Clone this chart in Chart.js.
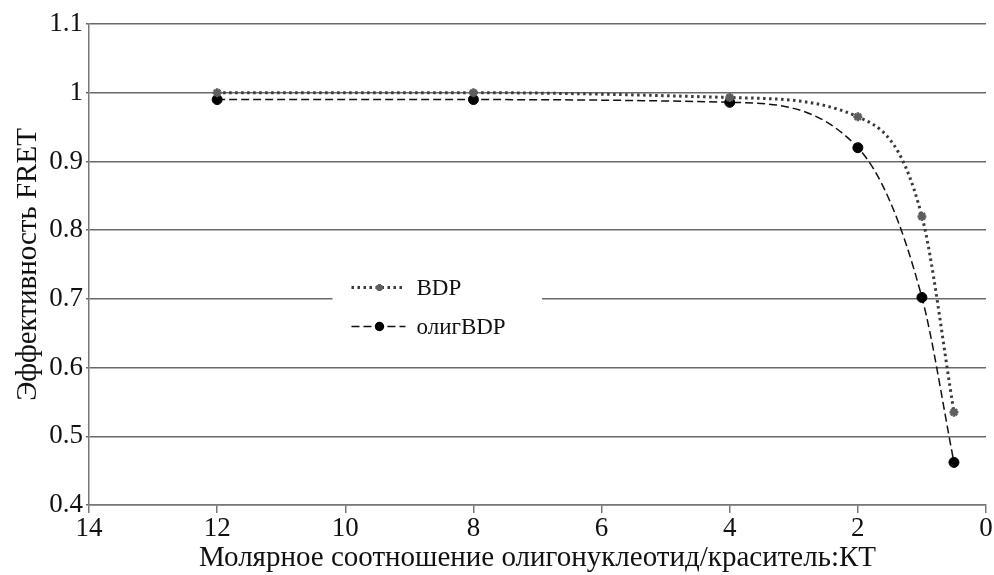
<!DOCTYPE html>
<html>
<head>
<meta charset="utf-8">
<script src="https://cdn.jsdelivr.net/npm/chart.js@4"></script>
<style>
  html, body { margin: 0; padding: 0; background: #fff; }
  #wrap { width: 994px; height: 575px; }
</style>
</head>
<body>
<div id="wrap"><canvas id="line-chart"></canvas></div>
<script>
const ratios = [12, 8, 4, 2, 1, 0.5];
const bdp = [1.0, 1.0, 0.993, 0.965, 0.82, 0.535];
const oligBdp = [0.99, 0.99, 0.986, 0.92, 0.702, 0.462];
const seriesNames = ['BDP', 'олигBDP'];

const serif = '"Liberation Serif", "Times New Roman", serif';

// legend sits inside the plot area, drawn by hand
const innerLegend = {
    id: 'innerLegend',
    afterDraw(chart) {
        const c = chart.ctx;
        const x = chart.scales.x, y = chart.scales.y;
        const left = x.getPixelForValue(10.2), right = x.getPixelForValue(6.93);
        const top = y.getPixelForValue(0.75), bottom = y.getPixelForValue(0.64);
        c.save();
        c.fillStyle = '#fff';
        c.fillRect(left, top, right - left, bottom - top);
        chart.data.datasets.forEach((ds, i) => {
            const yy = top + 23 + i * 39;
            const x0 = left + 19;
            c.strokeStyle = ds.borderColor;
            c.lineWidth = ds.borderWidth;
            c.setLineDash(ds.borderDash);
            c.beginPath();
            c.moveTo(x0, yy);
            c.lineTo(x0 + 54, yy);
            c.stroke();
            c.setLineDash([]);
            c.fillStyle = ds.pointBackgroundColor;
            c.strokeStyle = ds.pointBorderColor;
            Chart.helpers.drawPoint(c, {
                pointStyle: ds.pointStyle,
                radius: ds.pointRadius - 1,
                borderWidth: ds.pointBorderWidth || 1
            }, x0 + 28, yy);
            c.fillStyle = '#111';
            c.font = '23px ' + serif;
            c.textBaseline = 'middle';
            c.fillText(ds.label, x0 + 65, yy + 1);
        });
        c.restore();
    }
};

const ctx = document.getElementById('line-chart').getContext('2d');
const myChart = new Chart(ctx, {
    type: 'line',
    data: {
        datasets: [{
            label: seriesNames[0],
            data: ratios.map((r, i) => ({x: r, y: bdp[i]})),
            borderColor: '#3a3a3a',
            backgroundColor: '#5a5a5a',
            borderWidth: 3,
            borderDash: [2.5, 3.5],
            pointStyle: 'star',
            pointRadius: 4.5,
            pointBorderColor: '#5e5e5e',
            pointBackgroundColor: '#5e5e5e',
            pointBorderWidth: 2.5,
            cubicInterpolationMode: 'monotone'
        }, {
            label: seriesNames[1],
            data: ratios.map((r, i) => ({x: r, y: oligBdp[i]})),
            borderColor: '#111',
            backgroundColor: '#000',
            borderWidth: 1.5,
            borderDash: [8, 4],
            pointStyle: 'circle',
            pointRadius: 5,
            pointBorderColor: '#000',
            pointBackgroundColor: '#000',
            pointBorderWidth: 1,
            cubicInterpolationMode: 'monotone'
        }]
    },
    options: {
        responsive: true,
        maintainAspectRatio: false,
        animation: false,
        layout: {padding: {top: 24, right: 8, left: 0, bottom: 0}},
        plugins: {
            legend: {display: false},
            title: {display: false},
            tooltip: {enabled: false}
        },
        scales: {
            x: {
                type: 'linear',
                reverse: true,
                min: 0,
                max: 14,
                afterFit(scale) { scale.height = 70; },
                ticks: {stepSize: 2, color: '#111', font: {family: serif, size: 27}, padding: 0, maxRotation: 0},
                grid: {drawOnChartArea: false, drawTicks: true, tickLength: 8, color: '#777', lineWidth: 1.5},
                border: {color: '#777', width: 1.5},
                title: {display: true, text: 'Молярное соотношение олигонуклеотид/краситель:КТ',
                        color: '#111', font: {family: serif, size: 29, lineHeight: 1.1}, padding: {top: 0, bottom: 1}}
            },
            y: {
                min: 0.4,
                max: 1.1,
                afterFit(scale) { scale.width = 89; },
                ticks: {stepSize: 0.1, color: '#111', font: {family: serif, size: 27}, padding: 3,
                        callback: v => String(+v.toFixed(1))},
                grid: {color: '#6a6a6a', lineWidth: 1.5, tickLength: 3},
                border: {color: '#777', width: 1.5},
                title: {display: true, text: 'Эффективность FRET',
                        color: '#111', font: {family: serif, size: 29, lineHeight: 1.1}, padding: {top: 12, bottom: 0}}
            }
        }
    },
    plugins: [innerLegend]
});
</script>
</body>
</html>
